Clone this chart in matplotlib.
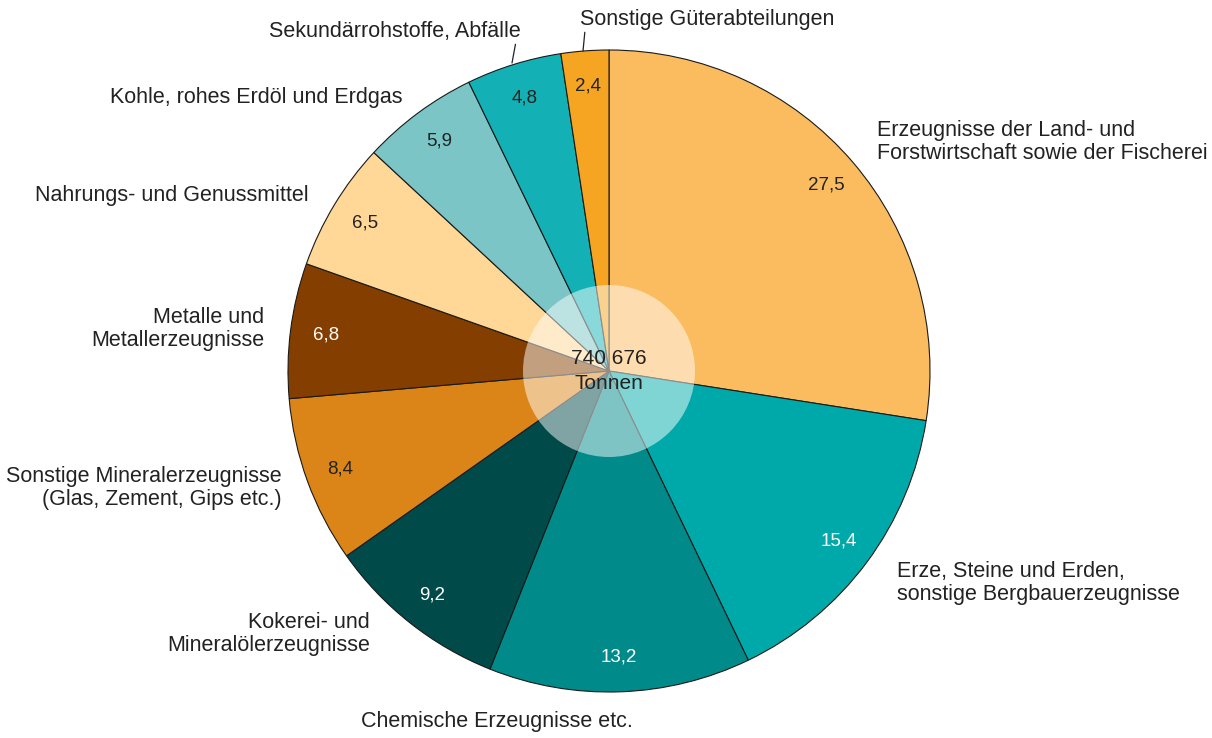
import matplotlib.pyplot as plt
from matplotlib.patches import Circle

plt.rcParams['font.family'] = ['Liberation Sans', 'DejaVu Sans']

categories = [
    'Erzeugnisse der Land- und\nForstwirtschaft sowie der Fischerei',
    'Erze, Steine und Erden,\nsonstige Bergbauerzeugnisse',
    'Chemische Erzeugnisse etc.',
    'Kokerei- und\nMineralölerzeugnisse',
    'Sonstige Mineralerzeugnisse\n(Glas, Zement, Gips etc.)',
    'Metalle und\nMetallerzeugnisse',
    'Nahrungs- und Genussmittel',
    'Kohle, rohes Erdöl und Erdgas',
    'Sekundärrohstoffe, Abfälle',
    'Sonstige Güterabteilungen',
]
shares = [27.5, 15.4, 13.2, 9.2, 8.4, 6.8, 6.5, 5.9, 4.8, 2.4]
colors = ['#FBBC5F', '#00A9A9', '#008A8A', '#014A4A', '#DB8518',
          '#843F00', '#FFD796', '#7BC5C6', '#13B1B5', '#F5A521']
value_colors = ['#222222', 'white', 'white', 'white', '#222222',
                'white', '#222222', '#222222', '#222222', '#222222']
total_label = '740 676\nTonnen'

fig = plt.figure(figsize=(12.12, 7.38), dpi=100)
ax = fig.add_axes([0, 0, 1, 1])

cx, cy, r = 609, 371, 321
# y axis is inverted, so counterclock=True draws clockwise on screen
wedges, texts, autotexts = ax.pie(
    shares, colors=colors, center=(cx, cy), radius=r,
    startangle=-90, counterclock=True,
    autopct=lambda p: f'{p * sum(shares) / 100:.1f}'.replace('.', ','),
    pctdistance=0.89, frame=True,
    wedgeprops=dict(edgecolor='#1a1a1a', linewidth=0.8),
    textprops=dict(fontsize=13.5))
for t, c in zip(autotexts, value_colors):
    t.set_color(c)
ax.set_xlim(0, 1212)
ax.set_ylim(738, 0)
ax.set_aspect('equal')
ax.axis('off')

ax.add_patch(Circle((cx, cy), 86, facecolor='white', alpha=0.5,
                    edgecolor='none', zorder=5))
ax.text(cx, cy, total_label, ha='center', va='center', fontsize=15,
        color='#222222', linespacing=1.45, zorder=6)

# category labels
lab = dict(fontsize=15.5, color='#222222', linespacing=1.15)
ax.text(877, 142, categories[0], ha='left', va='center', **lab)
ax.text(897, 583, categories[1], ha='left', va='center', **lab)
ax.text(497, 722, categories[2], ha='center', va='center', **lab)
ax.text(370, 634, categories[3], ha='right', va='center', **lab)
ax.text(282, 488, categories[4], ha='right', va='center', **lab)
ax.text(264, 329, categories[5], ha='right', va='center', **lab)
ax.text(309, 196, categories[6], ha='right', va='center', **lab)
ax.text(402, 98, categories[7], ha='right', va='center', **lab)
ax.annotate(categories[8], xy=(512, 63), xytext=(521, 31),
            ha='right', va='center', **lab,
            arrowprops=dict(arrowstyle='-', color='#222222', lw=0.9,
                            shrinkA=0, shrinkB=0,
                            relpos=(0.98, 0)))
ax.annotate(categories[9], xy=(583, 51), xytext=(580, 19),
            ha='left', va='center', **lab,
            arrowprops=dict(arrowstyle='-', color='#222222', lw=0.9,
                            shrinkA=0, shrinkB=0,
                            relpos=(0.02, 0)))

fig.savefig('out.png', dpi=100)
